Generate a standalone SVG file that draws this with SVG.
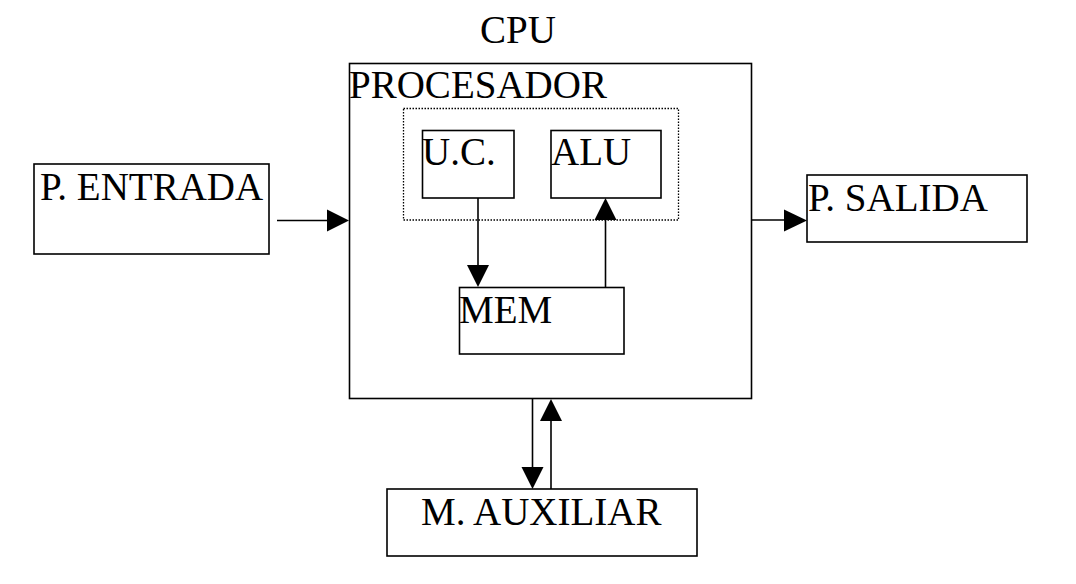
<svg xmlns="http://www.w3.org/2000/svg" width="1076" height="584" viewBox="0 0 1076 584">
<style>
.box{fill:#fff;stroke:#000;stroke-width:1.6}
.dot{fill:none;stroke:#000;stroke-width:1.3;stroke-dasharray:1.5 1.5}
text{font-family:'Liberation Serif','DejaVu Serif',serif;font-size:39px;fill:#000}
.ln{stroke:#000;stroke-width:1.6;fill:none}
.ah{fill:#000}
</style>
<rect width="1076" height="584" fill="#fff"/>
<g id="cpu">
<text x="480" y="43" font-size="35.5">CPU</text>
<rect class="box" x="349.5" y="63.5" width="402" height="335"/>
<text x="349" y="98">PROCESADOR</text>
</g>
<g id="grupo"><rect class="dot" x="403.5" y="108.5" width="275" height="111.5"/></g>
<g id="uc"><rect class="box" x="422.5" y="130.5" width="91.5" height="67.5"/><text x="422" y="165">U.C.</text></g>
<g id="alu"><rect class="box" x="551" y="130.5" width="110" height="67.5"/><text x="551" y="165">ALU</text></g>
<g id="mem"><rect class="box" x="459.5" y="287.5" width="164.5" height="66.5"/><text x="459" y="323">MEM</text></g>
<g id="entrada"><rect class="box" x="34" y="164" width="235" height="90"/><text x="40" y="200">P. ENTRADA</text></g>
<g id="salida"><rect class="box" x="807" y="175" width="220" height="67"/><text x="808" y="211">P. SALIDA</text></g>
<g id="auxiliar"><rect class="box" x="387" y="489" width="310" height="67"/><text x="421" y="525">M. AUXILIAR</text></g>
<g id="connectors">
<line class="ln" x1="277" y1="220.5" x2="330" y2="220.5"/>
<polygon class="ah" points="349,220.5 327,209.5 327,231.5"/>
<line class="ln" x1="752" y1="220" x2="786" y2="220"/>
<polygon class="ah" points="807,220.5 784,209.5 784,231.5"/>
<line class="ln" x1="478" y1="198" x2="478" y2="266"/>
<polygon class="ah" points="478,287 467,265 489,265"/>
<line class="ln" x1="605.5" y1="287" x2="605.5" y2="218"/>
<polygon class="ah" points="605.5,198 594.5,220 616.5,220"/>
<line class="ln" x1="532.5" y1="399" x2="532.5" y2="468"/>
<polygon class="ah" points="532.5,489 521.5,467 543.5,467"/>
<line class="ln" x1="551" y1="489" x2="551" y2="420"/>
<polygon class="ah" points="551,399 540,421 562,421"/>
</g>
</svg>
